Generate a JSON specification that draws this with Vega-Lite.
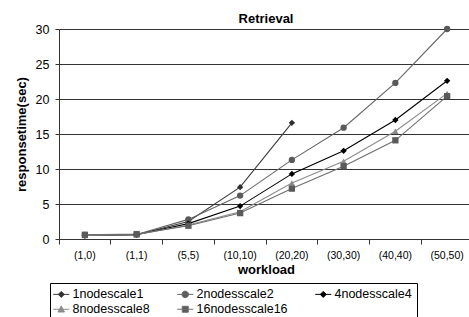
{
  "$schema": "https://vega.github.io/schema/vega-lite/v6.json",
  "autosize": "none",
  "width": 414,
  "height": 210,
  "padding": {"left": 59, "top": 29, "right": 0, "bottom": 78},
  "background": "white",
  "title": {"text": "Retrieval", "fontSize": 13, "font": "Liberation Sans", "fontWeight": "bold", "color": "black", "offset": -3},
  "config": {
    "view": {"stroke": null},
    "axis": {"labelFont": "Liberation Sans", "titleFont": "Liberation Sans", "labelColor": "black", "titleColor": "black", "domainColor": "#333333", "tickColor": "#333333", "gridColor": "#333333", "titleFontWeight": "bold", "titleFontSize": 13}
  },
  "data": {"values": [
    {"workload": "(1,0)", "series": "1nodescale1", "t": 0.5},
    {"workload": "(1,1)", "series": "1nodescale1", "t": 0.6},
    {"workload": "(5,5)", "series": "1nodescale1", "t": 2.5},
    {"workload": "(10,10)", "series": "1nodescale1", "t": 7.4},
    {"workload": "(20,20)", "series": "1nodescale1", "t": 16.6},
    {"workload": "(1,0)", "series": "2nodesscale2", "t": 0.6},
    {"workload": "(1,1)", "series": "2nodesscale2", "t": 0.65},
    {"workload": "(5,5)", "series": "2nodesscale2", "t": 2.8},
    {"workload": "(10,10)", "series": "2nodesscale2", "t": 6.2},
    {"workload": "(20,20)", "series": "2nodesscale2", "t": 11.3},
    {"workload": "(30,30)", "series": "2nodesscale2", "t": 15.9},
    {"workload": "(40,40)", "series": "2nodesscale2", "t": 22.3},
    {"workload": "(50,50)", "series": "2nodesscale2", "t": 30.0},
    {"workload": "(1,0)", "series": "4nodesscale4", "t": 0.5},
    {"workload": "(1,1)", "series": "4nodesscale4", "t": 0.6},
    {"workload": "(5,5)", "series": "4nodesscale4", "t": 2.2},
    {"workload": "(10,10)", "series": "4nodesscale4", "t": 4.7},
    {"workload": "(20,20)", "series": "4nodesscale4", "t": 9.3},
    {"workload": "(30,30)", "series": "4nodesscale4", "t": 12.6},
    {"workload": "(40,40)", "series": "4nodesscale4", "t": 17.0},
    {"workload": "(50,50)", "series": "4nodesscale4", "t": 22.6},
    {"workload": "(1,0)", "series": "8nodesscale8", "t": 0.5},
    {"workload": "(1,1)", "series": "8nodesscale8", "t": 0.6},
    {"workload": "(5,5)", "series": "8nodesscale8", "t": 2.0},
    {"workload": "(10,10)", "series": "8nodesscale8", "t": 3.9},
    {"workload": "(20,20)", "series": "8nodesscale8", "t": 8.0},
    {"workload": "(30,30)", "series": "8nodesscale8", "t": 11.1},
    {"workload": "(40,40)", "series": "8nodesscale8", "t": 15.4},
    {"workload": "(50,50)", "series": "8nodesscale8", "t": 20.8},
    {"workload": "(1,0)", "series": "16nodesscale16", "t": 0.6},
    {"workload": "(1,1)", "series": "16nodesscale16", "t": 0.7},
    {"workload": "(5,5)", "series": "16nodesscale16", "t": 1.9},
    {"workload": "(10,10)", "series": "16nodesscale16", "t": 3.7},
    {"workload": "(20,20)", "series": "16nodesscale16", "t": 7.2},
    {"workload": "(30,30)", "series": "16nodesscale16", "t": 10.4},
    {"workload": "(40,40)", "series": "16nodesscale16", "t": 14.1},
    {"workload": "(50,50)", "series": "16nodesscale16", "t": 20.4}
  ]},
  "encoding": {
    "x": {"field": "workload", "type": "nominal", "sort": null,
      "scale": {"type": "band", "paddingInner": 0, "paddingOuter": 0, "domain": ["(1,0)", "(1,1)", "(5,5)", "(10,10)", "(20,20)", "(30,30)", "(40,40)", "(50,50)"]},
      "axis": {"title": "workload", "labelAngle": 0, "labelFontSize": 10.5, "bandPosition": 0, "tickSize": 5, "labelPadding": 6, "titlePadding": 3, "grid": false}},
    "y": {"field": "t", "type": "quantitative",
      "scale": {"domain": [0, 30], "nice": false},
      "axis": {"title": "responsetime(sec)", "values": [0, 5, 10, 15, 20, 25, 30], "labelFontSize": 12.5, "tickSize": 4, "labelPadding": 6, "titlePadding": 7, "grid": true}}
  },
  "layer": [
    {
      "mark": {"type": "line", "strokeWidth": 1.1},
      "encoding": {
        "color": {"field": "series", "type": "nominal", "legend": null,
          "scale": {"domain": ["1nodescale1", "2nodesscale2", "4nodesscale4", "8nodesscale8", "16nodesscale16"], "range": ["#3a3a3a", "#666666", "#000000", "#8c8c8c", "#6e6e6e"]}}
      }
    },
    {
      "mark": {"type": "point", "filled": true, "opacity": 1, "size": 40},
      "encoding": {
        "color": {"field": "series", "type": "nominal", "legend": null,
          "scale": {"domain": ["1nodescale1", "2nodesscale2", "4nodesscale4", "8nodesscale8", "16nodesscale16"], "range": ["#2e2e2e", "#5a5a5a", "#000000", "#8a8a8a", "#5a5a5a"]}},
        "shape": {"field": "series", "type": "nominal", "legend": null,
          "scale": {"domain": ["1nodescale1", "2nodesscale2", "4nodesscale4", "8nodesscale8", "16nodesscale16"], "range": ["diamond", "circle", "diamond", "triangle-up", "square"]}}
      }
    },
    {
      "mark": {"type": "point", "filled": true, "size": 0, "opacity": 1, "strokeWidth": 1},
      "encoding": {
        "color": {"field": "series", "type": "nominal",
          "scale": {"domain": ["1nodescale1", "2nodesscale2", "4nodesscale4", "8nodesscale8", "16nodesscale16"], "range": ["#2e2e2e", "#5a5a5a", "#000000", "#8a8a8a", "#5a5a5a"]},
          "legend": {"title": null, "orient": "none", "direction": "horizontal", "legendX": -9, "legendY": 254, "columns": 3, "columnPadding": 25, "rowPadding": 2,
            "labelFont": "Liberation Sans", "labelFontSize": 12.5, "labelColor": "black", "labelOffset": 5,
            "symbolSize": 100, "symbolOpacity": 1, "symbolStrokeWidth": 1,
            "strokeColor": "black", "padding": 5, "fillColor": "white"}},
        "stroke": {"field": "series", "type": "nominal",
          "scale": {"domain": ["1nodescale1", "2nodesscale2", "4nodesscale4", "8nodesscale8", "16nodesscale16"], "range": ["#3a3a3a", "#666666", "#000000", "#8c8c8c", "#6e6e6e"]}},
        "shape": {"field": "series", "type": "nominal",
          "scale": {"domain": ["1nodescale1", "2nodesscale2", "4nodesscale4", "8nodesscale8", "16nodesscale16"], "range": [
            "M-1.6,0H1.6M0,-0.6L0.6,0L0,0.6L-0.6,0Z",
            "M-1.6,0H1.6M-0.65,0A0.65,0.65 0 1,0 0.65,0A0.65,0.65 0 1,0 -0.65,0Z",
            "M-1.6,0H1.6M0,-0.6L0.6,0L0,0.6L-0.6,0Z",
            "M-1.6,0H1.6M0,-0.65L0.65,0.55L-0.65,0.55Z",
            "M-1.6,0H1.6M-0.6,-0.6H0.6V0.6H-0.6Z"]}}
      }
    }
  ],
  "resolve": {"scale": {"color": "independent", "shape": "independent", "stroke": "independent"}}
}
